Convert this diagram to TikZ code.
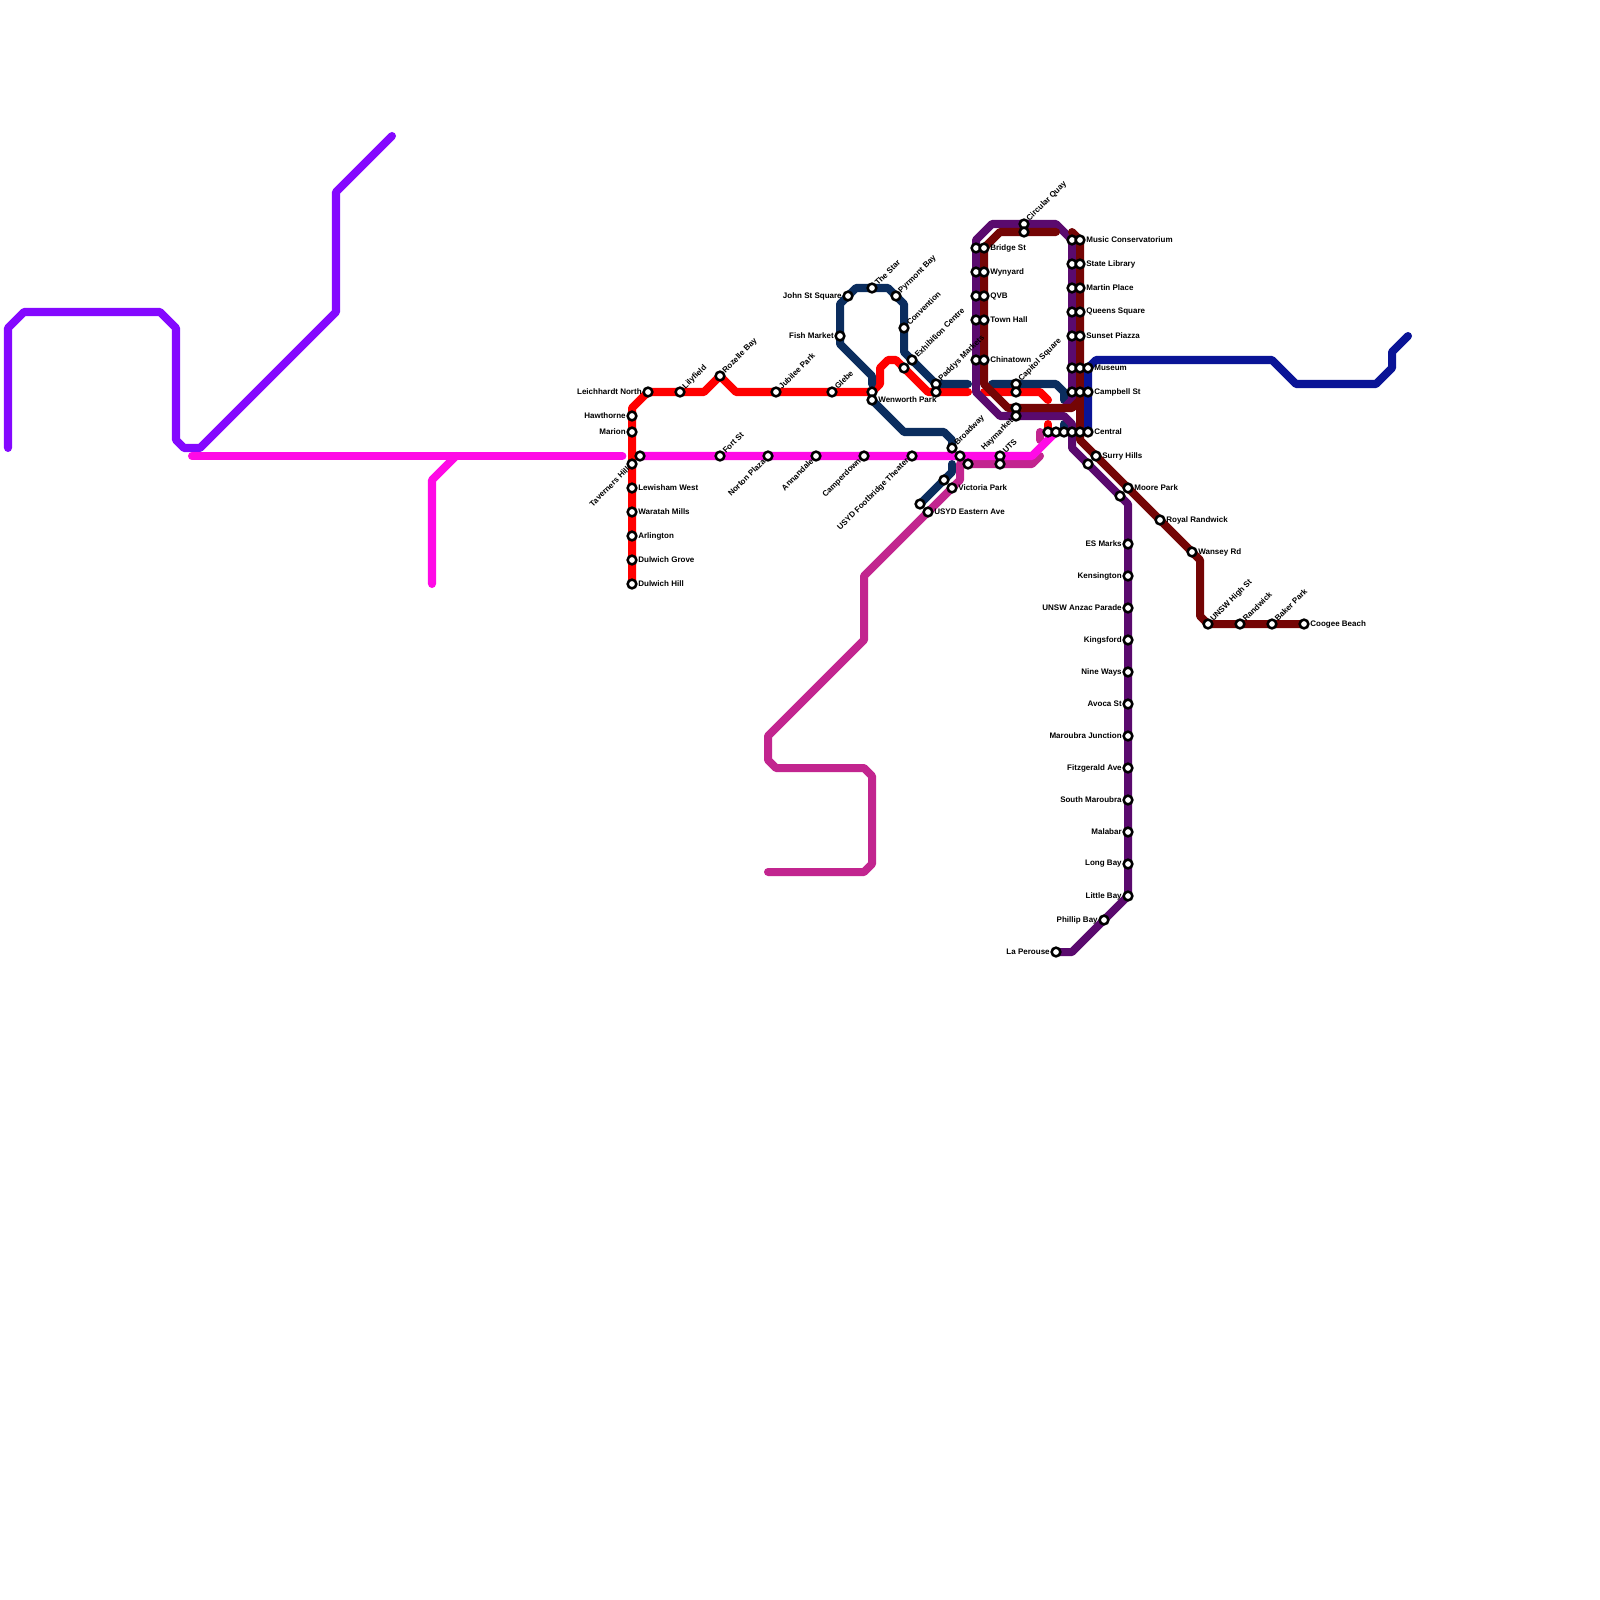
\documentclass[tikz,border=0pt]{standalone}
\usepackage{fontspec}
\setmainfont{Liberation Sans}
\pgfdeclarelayer{lines}
\pgfsetlayers{lines,main}
\definecolor{cviolet}{HTML}{8408FF}
\definecolor{cmagenta}{HTML}{FF0AE6}
\definecolor{cred}{HTML}{FF0000}
\definecolor{cnavy}{HTML}{0B2D5E}
\definecolor{cmauve}{HTML}{C2258F}
\definecolor{cpurple}{HTML}{5A0A6E}
\definecolor{cdark}{HTML}{740505}
\definecolor{cblue}{HTML}{0A1496}
\tikzset{
 ln/.style={line width=5.7pt,line cap=round,line join=round},
 stn/.style={circle,draw=black,fill=white,line width=1.8pt,minimum size=6.2pt,inner sep=0pt},
 lbl/.style={font=\fontsize{5.7}{6}\selectfont\bfseries,inner sep=0pt,text=black},
 lblR/.style={lbl,anchor=west,xshift=4.3pt,yshift=0pt},
 lblL/.style={lbl,anchor=east,xshift=-4.3pt,yshift=0pt},
 lblU/.style={lbl,anchor=west,rotate=45,xshift=3.9pt,yshift=0pt},
 lblD/.style={lbl,anchor=east,rotate=45,xshift=-3.9pt,yshift=0pt},
}
\newcommand{\stnO}[3]{\node[stn] (#1) at (#2,#3) {};}
\newcommand{\stnR}[4]{\node[stn] (#1) at (#2,#3) {}; \node[lblR] (#1-t) at (#2,#3) {#4};}
\newcommand{\stnL}[4]{\node[stn] (#1) at (#2,#3) {}; \node[lblL] (#1-t) at (#2,#3) {#4};}
\newcommand{\stnU}[4]{\node[stn] (#1) at (#2,#3) {}; \node[lblU] (#1-t) at (#2,#3) {#4};}
\newcommand{\stnD}[4]{\node[stn] (#1) at (#2,#3) {}; \node[lblD] (#1-t) at (#2,#3) {#4};}
\begin{document}
\begin{tikzpicture}[x=0.2cm,y=-0.2cm]
\useasboundingbox (0,0) rectangle (200,200);
% red west
\stnL{leich}{81}{49}{Leichhardt North}
\stnU{lily}{85}{49}{Lilyfield}
\stnU{rozelle}{90}{47}{Rozelle Bay}
\stnU{jubilee}{97}{49}{Jubilee Park}
\stnU{glebe}{104}{49}{Glebe}
\stnO{wentop}{109}{49}
\stnR{wenworth}{109}{50}{Wenworth Park}
\stnL{hawthorne}{79}{52}{Hawthorne}
\stnL{marion}{79}{54}{Marion}
\stnD{taverners}{79}{58}{Taverners Hill}
\stnR{lewisham}{79}{61}{Lewisham West}
\stnR{waratah}{79}{64}{Waratah Mills}
\stnR{arlington}{79}{67}{Arlington}
\stnR{dulgrove}{79}{70}{Dulwich Grove}
\stnR{dulhill}{79}{73}{Dulwich Hill}
% magenta
\stnO{tavm}{80}{57}
\stnU{fort}{90}{57}{Fort St}
\stnD{norton}{96}{57}{Norton Plaza}
\stnD{annandale}{102}{57}{Annandale}
\stnD{camperdown}{108}{57}{Camperdown}
\stnD{footbridge}{114}{57}{USYD Footbridge Theater}
\stnO{broadm}{120}{57}
\stnU{uts}{125}{57}{UTS}
\stnO{utsb}{125}{58}
\stnO{broadb}{121}{58}
% navy
\stnL{fish}{105}{42}{Fish Market}
\stnL{johnst}{106}{37}{John St Square}
\stnU{star}{109}{36}{The Star}
\stnU{pyrmont}{112}{37}{Pyrmont Bay}
\stnU{convention}{113}{41}{Convention}
\stnU{exhibition}{114}{45}{Exhibition Centre}
\stnO{exhred}{113}{46}
\stnU{paddys}{117}{48}{Paddys Markets}
\stnO{paddysb}{117}{49}
\stnU{broadway}{119}{56}{Broadway}
\stnO{vicn}{118}{60}
\stnO{nvend}{115}{63}
\stnR{victoria}{119}{61}{Victoria Park}
\stnR{eastern}{116}{64}{USYD Eastern Ave}
\stnU{capitol}{127}{48}{Capitol Square}
\stnO{capitolb}{127}{49}
\stnO{haytop}{127}{51}
\stnD{haymarket}{127}{52}{Haymarket}
% city loop
\stnU{circular}{128}{28}{Circular Quay}
\stnO{circularb}{128}{29}
\stnO{bridgep}{122}{31}\stnR{bridge}{123}{31}{Bridge St}
\stnO{wynp}{122}{34}\stnR{wynyard}{123}{34}{Wynyard}
\stnO{qvbp}{122}{37}\stnR{qvb}{123}{37}{QVB}
\stnO{townp}{122}{40}\stnR{town}{123}{40}{Town Hall}
\stnO{chinap}{122}{45}\stnR{china}{123}{45}{Chinatown}
\stnO{musp}{134}{30}\stnR{music}{135}{30}{Music Conservatorium}
\stnO{statp}{134}{33}\stnR{state}{135}{33}{State Library}
\stnO{marp}{134}{36}\stnR{martin}{135}{36}{Martin Place}
\stnO{queenp}{134}{39}\stnR{queens}{135}{39}{Queens Square}
\stnO{sunp}{134}{42}\stnR{sunset}{135}{42}{Sunset Piazza}
\stnO{musep}{134}{46}\stnO{mused}{135}{46}\stnR{museum}{136}{46}{Museum}
\stnO{campp}{134}{49}\stnO{campd}{135}{49}\stnR{campbell}{136}{49}{Campbell St}
\stnO{cenr}{131}{54}\stnO{cenm}{132}{54}\stnO{cenn}{133}{54}\stnO{cenp}{134}{54}\stnO{cend}{135}{54}\stnR{central}{136}{54}{Central}
% south east
\stnR{surry}{137}{57}{Surry Hills}
\stnO{surryp}{136}{58}
\stnR{moore}{141}{61}{Moore Park}
\stnO{moorep}{140}{62}
\stnR{royal}{145}{65}{Royal Randwick}
\stnR{wansey}{149}{69}{Wansey Rd}
\stnU{unsw}{151}{78}{UNSW High St}
\stnU{randwick}{155}{78}{Randwick}
\stnU{baker}{159}{78}{Baker Park}
\stnR{coogee}{163}{78}{Coogee Beach}
\stnL{esmarks}{141}{68}{ES Marks}
\stnL{kens}{141}{72}{Kensington}
\stnL{anzac}{141}{76}{UNSW Anzac Parade}
\stnL{kingsford}{141}{80}{Kingsford}
\stnL{nine}{141}{84}{Nine Ways}
\stnL{avoca}{141}{88}{Avoca St}
\stnL{maroubra}{141}{92}{Maroubra Junction}
\stnL{fitz}{141}{96}{Fitzgerald Ave}
\stnL{south}{141}{100}{South Maroubra}
\stnL{malabar}{141}{104}{Malabar}
\stnL{long}{141}{108}{Long Bay}
\stnL{little}{141}{112}{Little Bay}
\stnL{phillip}{138}{115}{Phillip Bay}
\stnL{perouse}{132}{119}{La Perouse}
% bends
\foreach \n/\x/\y in {v1/1/56,v2/1/41,v3/3/39,v4/20/39,v5/22/41,v6/22/55,v7/23/56,v8/25/56,v9/42/39,v10/42/24,v11/49/17,
 r1/79/51,r2/88/49,r3/92/49,r4/110/48,r5/110/46,r6/111/45,r7/112/45,r8/116/49,r9/121/49,r10/123/49,r11/130/49,r12/131/50,r13/131/53,
 m1/24/57,m2/77.8/57,m3/57/57,m4/54/60,m5/54/73,m6/129/57,m7/132/54,
 n1/109/48,n2/109/47,n3/105/43,n4/105/38,n5/107/36,n6/111/36,n7/113/38,n8/113/44,n9/121/48,n10/124/48,n11/132/48,n12/133/49,n13/133/50,
 n14/113/54,n15/118/54,n16/119/55,n17/119/58,n18/119/59,n19/133/53,
 a1/96/109,a2/108/109,a3/109/108,a4/109/97,a5/108/96,a6/97/96,a7/96/95,a8/96/92,a9/108/80,a10/108/72,a11/120/60,a12/120/58,a13/129/58,a14/130/57,a15/130/54,a16/130/55,
 p1/133/51,p2/134/50,p3/132/28,p4/124/28,p5/122/30,p6/122/49,p7/125/52,p8/133/52,p9/134/53,p10/134/56,p11/141/63,p12/134/119,
 d1/132/29,d2/125/29,d3/123/31,d4/123/48,d5/126/51,d6/134/51,d7/135/50,d8/134/29,d9/135/55,d10/150/70,d11/150/77,
 b1/136/46,b2/137/45,b3/159/45,b4/162/48,b5/172/48,b6/174/46,b7/174/44,b8/176/42}
 {\coordinate (\n) at (\x,\y);}
\begin{pgfonlayer}{lines}
\fill[white] (0,0) rectangle (200,200);
\draw[ln,cviolet] (v1)--(v2)--(v3)--(v4)--(v5)--(v6)--(v7)--(v8)--(v9)--(v10)--(v11);
\draw[ln,cred] (dulhill.center)--(r1)--(leich.center)--(r2)--(rozelle.center)--(r3)--(wentop.center)--(r4)--(r5)--(r6)--(r7)--(r8)--(r9);
\draw[ln,cred] (r10)--(r11)--(r12);
\draw[ln,cred] (r13)--(cenr.center);
\draw[ln,cnavy] (n1)--(n2)--(n3)--(n4)--(n5)--(n6)--(n7)--(n8)--(paddys.center)--(n9);
\draw[ln,cnavy] (n10)--(n11)--(n12)--(n13);
\draw[ln,cnavy] (wenworth.center)--(n14)--(n15)--(n16)--(broadway.center);
\draw[ln,cnavy] (n17)--(n18)--(nvend.center);
\draw[ln,cnavy] (n19)--(cenn.center);
\draw[ln,cmauve] (a1)--(a2)--(a3)--(a4)--(a5)--(a6)--(a7)--(a8)--(a9)--(a10)--(a11)--(a12)--(a13)--(a14);
\draw[ln,cmauve] (a15)--(a16);
\draw[ln,cmagenta] (m1)--(m2);
\draw[ln,cmagenta] (tavm.center)--(m6)--(m7);
\draw[ln,cmagenta] (m5)--(m4)--(m3);
\draw[ln,cpurple] (p1)--(p2)--(musp.center)--(p3)--(p4)--(p5)--(p6)--(p7)--(p8)--(p9)--(p10)--(p11)--(little.center)--(p12)--(perouse.center);
\draw[ln,cdark] (d1)--(d2)--(d3)--(d4)--(d5)--(d6)--(d7);
\draw[ln,cdark] (d8)--(music.center)--(d9)--(d10)--(d11)--(unsw.center)--(coogee.center);
\draw[ln,cblue] (central.center)--(b1)--(b2)--(b3)--(b4)--(b5)--(b6)--(b7)--(b8);
\end{pgfonlayer}
\end{tikzpicture}
\end{document}
